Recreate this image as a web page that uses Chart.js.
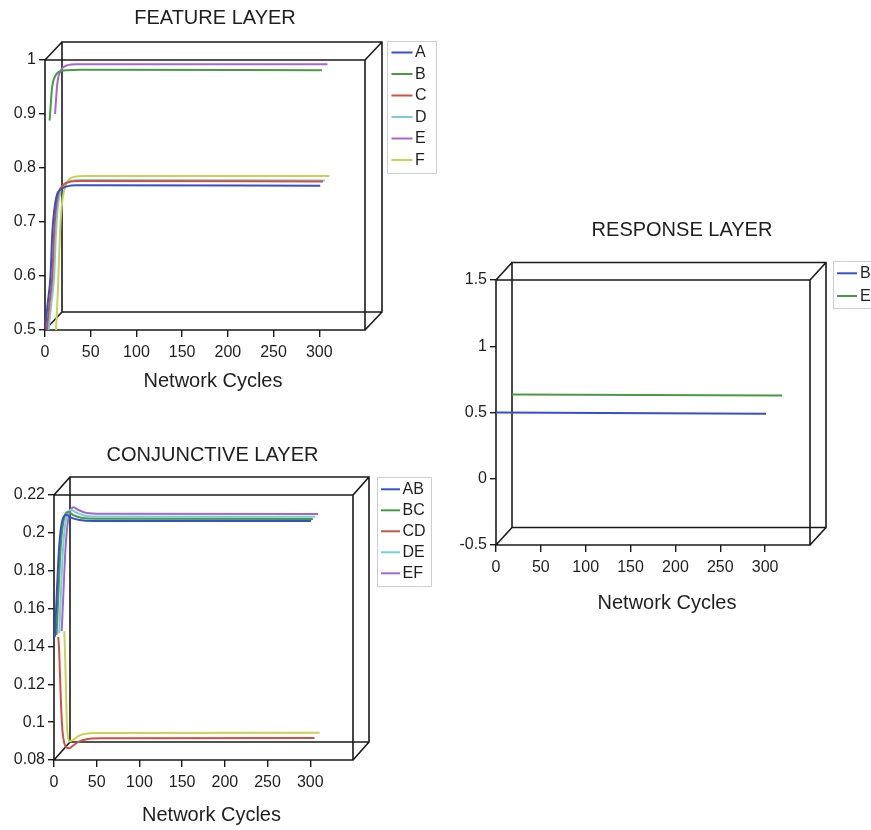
<!DOCTYPE html>
<html><head><meta charset="utf-8">
<script src="https://cdn.jsdelivr.net/npm/chart.js@4"></script>
<style>
html,body{margin:0;padding:0;background:#fff;}
body{width:871px;height:830px;position:relative;overflow:hidden;}
canvas{position:absolute;display:block;}
</style></head><body>
<canvas id="feature" width="440" height="400" style="left:0;top:0;width:440px;height:400px"></canvas>
<canvas id="conj" width="440" height="400" style="left:0;top:430px;width:440px;height:400px"></canvas>
<canvas id="resp" width="431" height="420" style="left:440px;top:200px;width:431px;height:420px"></canvas>
<script>
// ---------- DATA ----------
const xTicks = [0, 50, 100, 150, 200, 250, 300];

// FEATURE LAYER: [network cycle, activation]
const featureLabels = ['A', 'B', 'C', 'D', 'E', 'F'];
const featureA = [[0,0.5],[3,0.55],[6,0.6],[8,0.68],[10,0.72],[13,0.75],[17,0.76],[24,0.766],[35,0.768],[301,0.767]];
const featureB = [[5,0.888],[6,0.91],[7,0.935],[8,0.952],[10,0.966],[13,0.975],[17,0.979],[24,0.981],[40,0.982],[303,0.981]];
const featureC = [[2,0.5],[5,0.55],[8,0.6],[10,0.68],[12,0.725],[15,0.755],[19,0.767],[26,0.774],[38,0.776],[304,0.775]];
const featureD = [[4,0.5],[7,0.55],[10,0.6],[12,0.68],[14,0.728],[17,0.758],[21,0.77],[28,0.776],[40,0.778],[306,0.777]];
const featureE = [[11,0.9],[12,0.925],[13,0.948],[14,0.963],[16,0.976],[19,0.985],[24,0.99],[35,0.992],[309,0.992]];
const featureF = [[12,0.5],[14,0.57],[15.5,0.64],[17,0.7],[19,0.74],[22,0.765],[26,0.778],[32,0.784],[45,0.785],[311,0.785]];
const featureYTicks = [0.5, 0.6, 0.7, 0.8, 0.9, 1];

// CONJUNCTIVE LAYER
const conjLabels = ['AB', 'BC', 'CD', 'DE', 'EF', 'FA'];
const conjAB = [[1,0.145],[3,0.165],[5,0.185],[7,0.198],[9,0.205],[12,0.209],[15,0.2095],[20,0.208],[30,0.2068],[45,0.2063],[301,0.2063]];
const conjBC = [[3,0.146],[5,0.166],[7,0.186],[9,0.199],[11,0.206],[14,0.2105],[17,0.211],[22,0.2095],[32,0.208],[47,0.2074],[303,0.2073]];
const conjCD = [[5,0.145],[6,0.138],[7,0.125],[8,0.112],[9,0.102],[10,0.095],[12,0.089],[15,0.0865],[18,0.0862],[22,0.0875],[28,0.0895],[38,0.091],[55,0.0915],[305,0.0916]];
const conjDE = [[6,0.147],[8,0.167],[10,0.187],[12,0.2],[14,0.207],[17,0.2115],[20,0.2122],[25,0.211],[35,0.2092],[50,0.2086],[306,0.2085]];
const conjEF = [[9,0.148],[11,0.168],[13,0.188],[15,0.201],[17,0.208],[20,0.2125],[23,0.2135],[28,0.2122],[38,0.2105],[55,0.2101],[309,0.21]];
const conjFA = [[12,0.148],[13,0.135],[14,0.118],[15,0.1],[16,0.093],[18,0.0898],[22,0.0905],[28,0.0925],[35,0.0937],[50,0.0943],[311,0.0944]];
const conjYTicks = [0.08, 0.1, 0.12, 0.14, 0.16, 0.18, 0.2, 0.22];

// RESPONSE LAYER
const respLabels = ['B', 'E'];
const respB = [[0,0.5],[301,0.49]];
const respE = [[18,0.636],[319,0.629]];
const respYTicks = [-0.5, 0, 0.5, 1, 1.5];

// ---------- STYLE ----------
const FONT = '"Liberation Sans", Arial, Helvetica, sans-serif';
const TXT = '#1e1e1e';
const palette = {
  blue: '#3550cc', green: '#4a9a45', red: '#cc5244', cyan: '#78cdd6', purple: '#a468cc', yellow: '#c9d255'
};

const box3d = {
  id: 'box3d',
  beforeDatasetsDraw(chart, args, o) {
    const {left, top, right, bottom} = chart.chartArea;
    const ctx = chart.ctx;
    ctx.save();
    ctx.strokeStyle = '#1a1a1a';
    ctx.lineWidth = 1.6;
    ctx.beginPath();
    const w = right - left, h = bottom - top;
    ctx.rect(left, top, w, h);
    ctx.rect(left + o.dx, top + o.dy, w, h);
    [[left, top], [right, top], [left, bottom], [right, bottom]].forEach(([x, y]) => {
      ctx.moveTo(x, y); ctx.lineTo(x + o.dx, y + o.dy);
    });
    ctx.stroke();
    ctx.restore();
  },
  afterDraw(chart, args, o) {
    const ctx = chart.ctx;
    ctx.save();
    ctx.fillStyle = TXT;
    ctx.textAlign = 'center';
    ctx.textBaseline = 'middle';
    ctx.font = '20px ' + FONT;
    ctx.fillText(o.title, o.titleX, o.titleY);
    ctx.font = '20px ' + FONT;
    ctx.fillText(o.axisTitle, o.axisX, o.axisY);
    // legend
    const L = o.legend;
    ctx.strokeStyle = '#c9ced8';
    ctx.lineWidth = 1;
    ctx.strokeRect(L.x + 0.5, L.y + 0.5, L.w, L.h);
    ctx.font = '16px ' + FONT;
    ctx.textAlign = 'left';
    let i = 0;
    chart.data.datasets.forEach(ds => {
      if (ds.inLegend === false) return;
      const y = L.firstY + i * L.step;
      ctx.strokeStyle = ds.borderColor;
      ctx.lineWidth = 2;
      ctx.beginPath();
      ctx.moveTo(L.lineX0, y); ctx.lineTo(L.lineX1, y);
      ctx.stroke();
      ctx.fillStyle = TXT;
      ctx.fillText(ds.label, L.textX, y + 0.5);
      i++;
    });
    ctx.restore();
  }
};

function ds(label, pts, color, inLegend) {
  return {
    label, data: pts.map(p => ({x: p[0], y: p[1]})),
    borderColor: color, borderWidth: 2, pointRadius: 0,
    cubicInterpolationMode: 'monotone', fill: false, inLegend: inLegend !== false
  };
}

function makeChart(id, datasets, yTicks, yMin, yMax, layout, yWidth, o) {
  return new Chart(document.getElementById(id), {
    type: 'line',
    data: {datasets},
    options: {
      responsive: false, animation: false, events: [],
      layout: {padding: layout},
      plugins: {legend: {display: false}, title: {display: false}, tooltip: {enabled: false}, box3d: o},
      scales: {
        x: {
          type: 'linear', min: 0, max: 350,
          afterBuildTicks: s => { s.ticks = xTicks.map(v => ({value: v})); },
          afterFit: s => { s.height = 30; },
          border: {display: false},
          grid: {drawOnChartArea: false, drawTicks: true, tickLength: 7, color: '#1a1a1a', lineWidth: 1.4},
          ticks: {color: TXT, font: {family: FONT, size: 16}, padding: 6, maxRotation: 0, autoSkip: false, callback: v => String(v)}
        },
        y: {
          type: 'linear', min: yMin, max: yMax,
          afterBuildTicks: s => { s.ticks = yTicks.map(v => ({value: v})); },
          afterFit: s => { s.width = yWidth; },
          border: {display: false},
          grid: {drawOnChartArea: false, drawTicks: true, tickLength: 6, color: '#1a1a1a', lineWidth: 1.4},
          ticks: {color: TXT, font: {family: FONT, size: 16}, padding: 3, autoSkip: false, callback: v => String(+v.toFixed(2))}
        }
      }
    },
    plugins: [box3d]
  });
}

makeChart('feature', [
  ds(featureLabels[0], featureA, palette.blue),
  ds(featureLabels[1], featureB, palette.green),
  ds(featureLabels[2], featureC, palette.red),
  ds(featureLabels[3], featureD, palette.cyan),
  ds(featureLabels[4], featureE, palette.purple),
  ds(featureLabels[5], featureF, palette.yellow)
], featureYTicks, 0.5, 1, {left: 0, top: 60, right: 75, bottom: 40}, 45, {
  dx: 17, dy: -18,
  title: 'FEATURE LAYER', titleX: 215, titleY: 18,
  axisTitle: 'Network Cycles', axisX: 213, axisY: 381,
  legend: {x: 387, y: 41, w: 49, h: 132, firstY: 52.5, step: 21.5, lineX0: 391.5, lineX1: 412.5, textX: 415}
});

makeChart('conj', [
  ds(conjLabels[0], conjAB, palette.blue),
  ds(conjLabels[1], conjBC, palette.green),
  ds(conjLabels[2], conjCD, palette.red),
  ds(conjLabels[3], conjDE, palette.cyan),
  ds(conjLabels[4], conjEF, palette.purple),
  ds(conjLabels[5], conjFA, palette.yellow, false)
], conjYTicks, 0.08, 0.22, {left: 0, top: 65, right: 87, bottom: 40}, 54, {
  dx: 16, dy: -18,
  title: 'CONJUNCTIVE LAYER', titleX: 212.5, titleY: 25,
  axisTitle: 'Network Cycles', axisX: 211.5, axisY: 385,
  legend: {x: 377, y: 47, w: 54, h: 109, firstY: 59.3, step: 21, lineX0: 381, lineX1: 400, textX: 402.5}
});

makeChart('resp', [
  ds(respLabels[0], respB, palette.blue),
  ds(respLabels[1], respE, palette.green)
], respYTicks, -0.5, 1.5, {left: 0, top: 80, right: 61, bottom: 45}, 56, {
  dx: 16, dy: -17.5,
  title: 'RESPONSE LAYER', titleX: 242, titleY: 30,
  axisTitle: 'Network Cycles', axisX: 227, axisY: 403,
  legend: {x: 393, y: 61, w: 60, h: 47, firstY: 73.3, step: 22.7, lineX0: 397, lineX1: 417, textX: 420}
});
</script>
</body></html>
